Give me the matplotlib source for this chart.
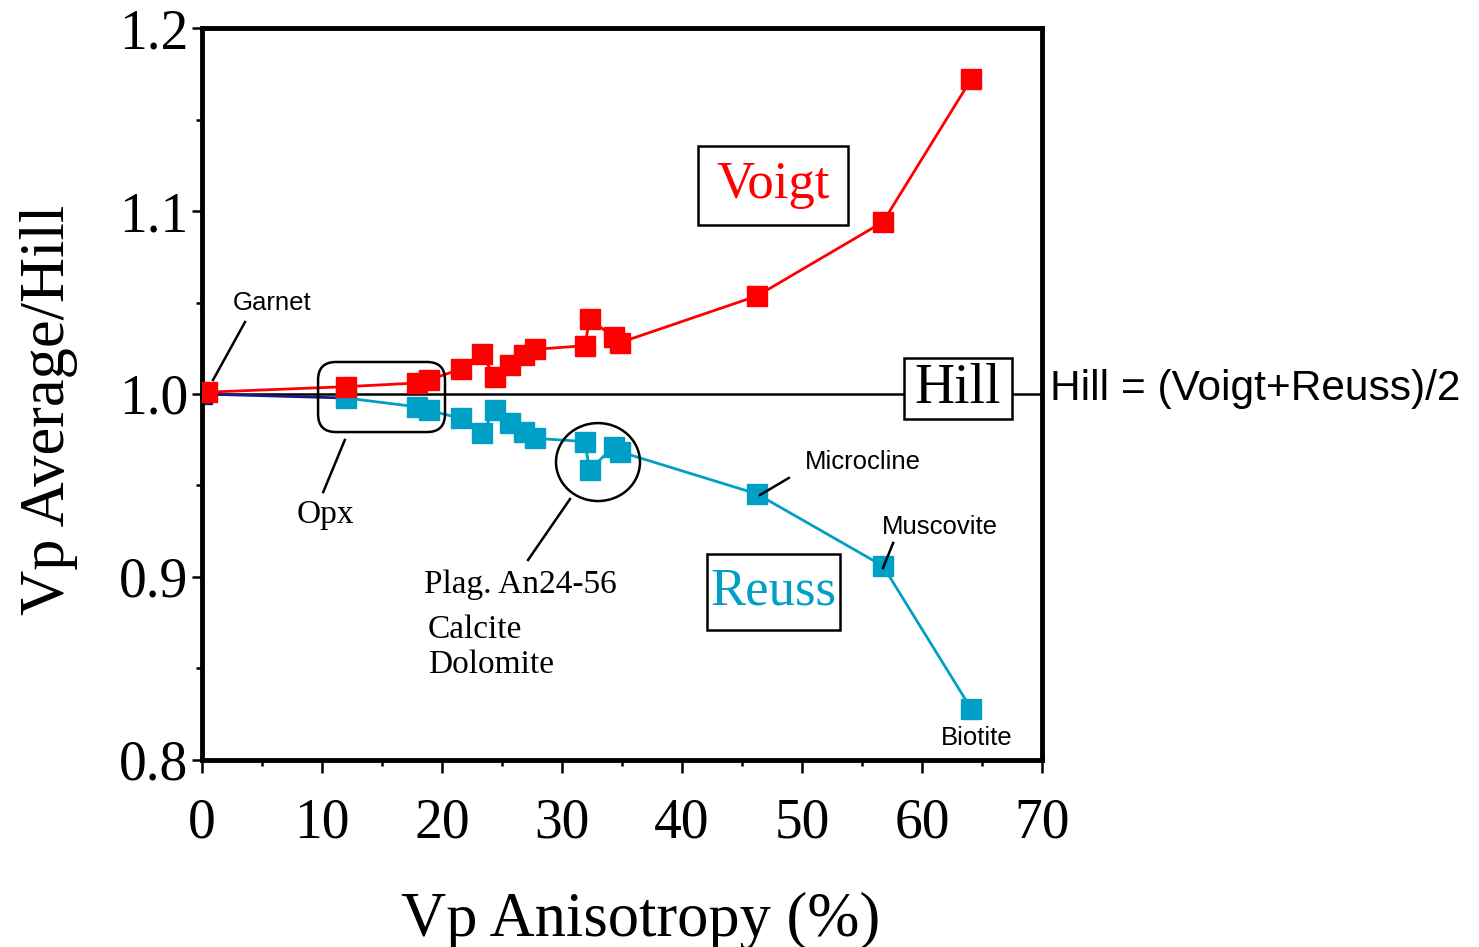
import matplotlib
matplotlib.use("Agg")
import matplotlib.pyplot as plt
from matplotlib.patches import Rectangle, FancyBboxPatch, Ellipse
from matplotlib.ticker import MultipleLocator

# Vp anisotropy (%) of each mineral and the Voigt / Reuss averages normalised by Hill
garnet_aniso = 0.4
garnet_voigt = 1.001
garnet_reuss = 1.0

aniso = [12.0, 17.9, 18.9, 21.6, 23.3, 24.4, 25.7, 26.8, 27.75,
         31.9, 32.3, 34.3, 34.8, 46.25, 56.75, 64.1]
voigt = [1.004, 1.006, 1.0077, 1.0137, 1.0217, 1.0095, 1.0158, 1.0213, 1.0244,
         1.0264, 1.0408, 1.0313, 1.028, 1.0536, 1.094, 1.172]
reuss = [0.9978, 0.993, 0.991, 0.9867, 0.9785, 0.991, 0.984, 0.9794, 0.9758,
         0.974, 0.9585, 0.9712, 0.9685, 0.9454, 0.906, 0.828]

x_ticks = [0, 10, 20, 30, 40, 50, 60, 70]
y_ticks = [0.8, 0.9, 1.0, 1.1, 1.2]

RED = "#FF0000"
CYAN = "#00A0C6"
NAVY = "#1A1A80"
SERIF = "Liberation Serif"
SANS = "Liberation Sans"

fig = plt.figure(figsize=(14.79, 9.47), dpi=100)
ax = fig.add_axes([0.1366, 0.1975, 0.5679, 0.7729])
ax.set_xlim(0, 70)
ax.set_ylim(0.8, 1.2)

# Hill reference line
ax.axhline(1.0, color="black", lw=1.8, zorder=1)

# Garnet-to-Opx Reuss segment
ax.plot([garnet_aniso - 0.4, aniso[0]], [garnet_reuss, reuss[0]], color=NAVY, lw=2,
        marker="s", markersize=14, markevery=[0], mfc=NAVY, mec=NAVY, zorder=2)

# Reuss and Voigt curves
ax.plot(aniso, reuss, color=CYAN, lw=2, marker="s", markersize=14,
        mfc=CYAN, mec=CYAN, zorder=3)
ax.plot([garnet_aniso] + aniso, [garnet_voigt] + voigt, color=RED, lw=2,
        marker="s", markersize=14, mfc=RED, mec=RED, zorder=4)

# Axes styling
for s in ax.spines.values():
    s.set_linewidth(3.5)
ax.xaxis.set_major_locator(MultipleLocator(10))
ax.xaxis.set_minor_locator(MultipleLocator(5))
ax.yaxis.set_major_locator(MultipleLocator(0.1))
ax.yaxis.set_minor_locator(MultipleLocator(0.05))
ax.set_xticks(x_ticks)
ax.set_yticks(y_ticks)
ax.set_xticklabels([str(v) for v in x_ticks])
ax.set_yticklabels([f"{v:.1f}" for v in y_ticks])
ax.tick_params(axis="x", which="major", direction="out", length=9, width=1.8, pad=18)
ax.tick_params(axis="x", which="minor", direction="out", length=4, width=1.8)
ax.tick_params(axis="y", which="major", direction="out", length=7, width=1.8, pad=3)
ax.tick_params(axis="y", which="minor", direction="out", length=4, width=1.8)
for lab in ax.get_xticklabels() + ax.get_yticklabels():
    lab.set_fontfamily(SERIF)
    lab.set_fontsize(40)

ax.set_xlabel("Vp Anisotropy (%)", fontfamily=SERIF, fontsize=45)
ax.xaxis.set_label_coords(0.522, -0.18)
ax.set_ylabel("Vp Average/Hill", fontfamily=SERIF, fontsize=45)
ax.yaxis.set_label_coords(-0.148, 0.478)

# Labelled boxes
ax.add_patch(Rectangle((41.33, 1.0923), 12.5, 0.0432, fc="white", ec="black", lw=1.8, zorder=5))
ax.text(47.6, 1.1142, "Voigt", color=RED, fontfamily=SERIF, fontsize=38,
        ha="center", va="center", zorder=6)
ax.add_patch(Rectangle((42.08, 0.871), 11.09, 0.0416, fc="white", ec="black", lw=1.8, zorder=5))
ax.text(47.6, 0.8918, "Reuss", color=CYAN, fontfamily=SERIF, fontsize=38,
        ha="center", va="center", zorder=6)
ax.add_patch(Rectangle((58.5, 0.9863), 9.0, 0.0334, fc="white", ec="black", lw=1.8, zorder=5))
ax.text(63.0, 1.0025, "Hill", color="black", fontfamily=SERIF, fontsize=40,
        ha="center", va="center", zorder=6)
ax.text(70.7, 1.003, "Hill = (Voigt+Reuss)/2", fontfamily=SANS, fontsize=30.5,
        ha="left", va="center", clip_on=False)

# Groupings
ax.add_patch(FancyBboxPatch((9.67, 0.9792), 10.58, 0.0383,
                            boxstyle="round,pad=0,rounding_size=1.5",
                            mutation_aspect=12 / 1830, fc="none", ec="black",
                            lw=1.8, zorder=6))
ax.add_patch(Ellipse((33.0, 0.9628), 7.0, 0.0426, fc="none", ec="black",
                     lw=1.8, zorder=6))

# Mineral labels with leader lines
leaders = [((0.92, 1.0077), (3.58, 1.0393)),
           ((11.9, 0.9749), (10.1, 0.9464)),
           ((30.67, 0.9426), (27.17, 0.9093)),
           ((46.5, 0.9448), (48.9, 0.9541)),
           ((56.75, 0.9049), (57.6, 0.9186))]
for (x0, y0), (x1, y1) in leaders:
    ax.plot([x0, x1], [y0, y1], color="black", lw=1.8, zorder=7)

ax.text(2.6, 1.0497, "Garnet", fontfamily=SANS, fontsize=18.5, ha="left", va="center")
ax.text(50.2, 0.9628, "Microcline", fontfamily=SANS, fontsize=18.5, ha="left", va="center")
ax.text(56.7, 0.9273, "Muscovite", fontfamily=SANS, fontsize=18.5, ha="left", va="center")
ax.text(64.6, 0.812, "Biotite", fontfamily=SANS, fontsize=18.5, ha="center", va="center")
ax.text(10.25, 0.9339, "Opx", fontfamily=SERIF, fontsize=24, ha="center", va="center")
ax.text(18.5, 0.8956, "Plag. An24-56", fontfamily=SERIF, fontsize=24, ha="left", va="center")
ax.text(18.8, 0.871, "Calcite", fontfamily=SERIF, fontsize=24, ha="left", va="center")
ax.text(18.8, 0.852, "Dolomite", fontfamily=SERIF, fontsize=24, ha="left", va="center")

fig.savefig("out.png", dpi=100)
